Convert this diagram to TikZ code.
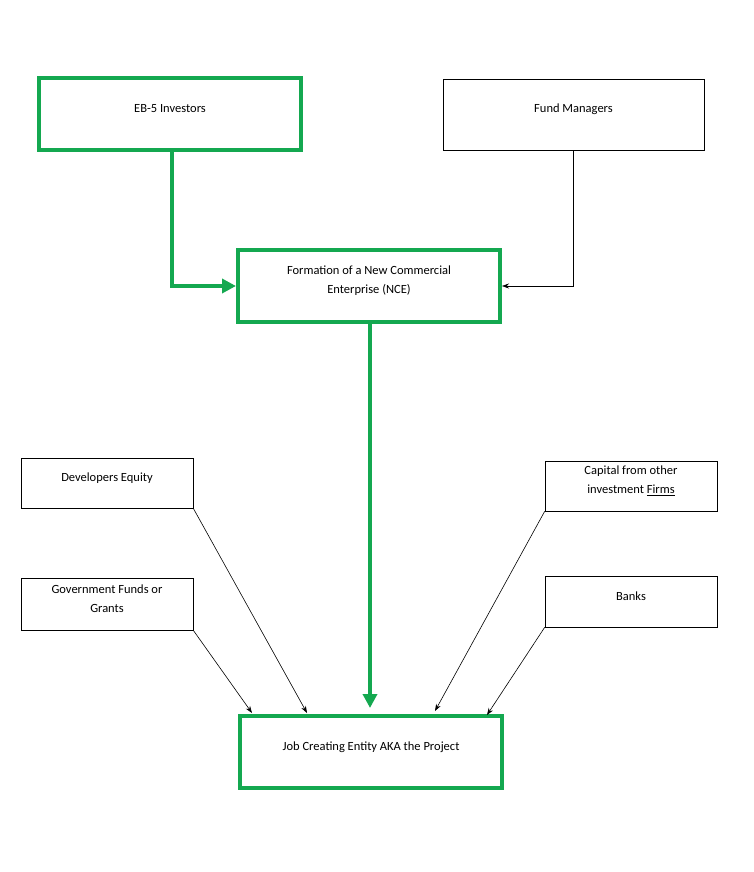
\documentclass[tikz,border=0pt]{standalone}
\usepackage{fontspec}
\setmainfont{Carlito}
\usetikzlibrary{arrows.meta}
\definecolor{grn}{HTML}{14A850}
\begin{document}
\begin{tikzpicture}[x=1pt,y=-1pt,
  txt/.style={align=center,font=\fontsize{12.5}{19}\selectfont,yshift=5pt},
  gbox/.style={draw=grn,line width=4pt},
  bbox/.style={draw=black,line width=0.6pt},
  garrow/.style={draw=grn,line width=4pt,-{Triangle[length=14pt,width=14pt]}},
  barrow/.style={draw=black,line width=0.6pt,-{Stealth[length=7pt,width=5pt]}}]
\useasboundingbox (0,0) rectangle (754,872);
\node[gbox,minimum width=262pt,minimum height=72pt,label={[txt]center:EB-5 Investors}] (eb5) at (170,114) {};
\node[bbox,minimum width=261pt,minimum height=71pt,label={[txt]center:Fund Managers}] (fund) at (573.5,114.5) {};
\node[gbox,minimum width=262pt,minimum height=72pt,label={[txt]center:Formation of a New Commercial\\Enterprise (NCE)}] (nce) at (369,286) {};
\node[bbox,minimum width=172pt,minimum height=50pt,label={[txt]center:Developers Equity}] (dev) at (107,483) {};
\node[bbox,minimum width=172pt,minimum height=50pt,label={[txt]center:Capital from other\\investment \underline{Firms}}] (cap) at (631,486) {};
\node[bbox,minimum width=172pt,minimum height=52pt,label={[txt]center:Government Funds or\\Grants}] (gov) at (107,604) {};
\node[bbox,minimum width=172pt,minimum height=51pt,label={[txt]center:Banks}] (bank) at (631,601.5) {};
\node[gbox,minimum width=262pt,minimum height=72pt,label={[txt]center:Job Creating Entity AKA the Project}] (job) at (371,752) {};
\coordinate (jd) at (307,713);
\coordinate (jg) at (252,713);
\coordinate (jc) at (435,711);
\coordinate (jb) at (487,715);
\coordinate (jn) at (370,708);
\draw[garrow] (eb5.south -| 172,0) |- (nce.west);
\draw[barrow] (fund.south) |- (nce.east);
\draw[garrow] (nce.south -| 370,0) -- (jn);
\draw[barrow] (dev.south east) -- (jd);
\draw[barrow] (gov.south east) -- (jg);
\draw[barrow] (cap.south west) -- (jc);
\draw[barrow] (bank.south west) -- (jb);
\end{tikzpicture}
\end{document}
